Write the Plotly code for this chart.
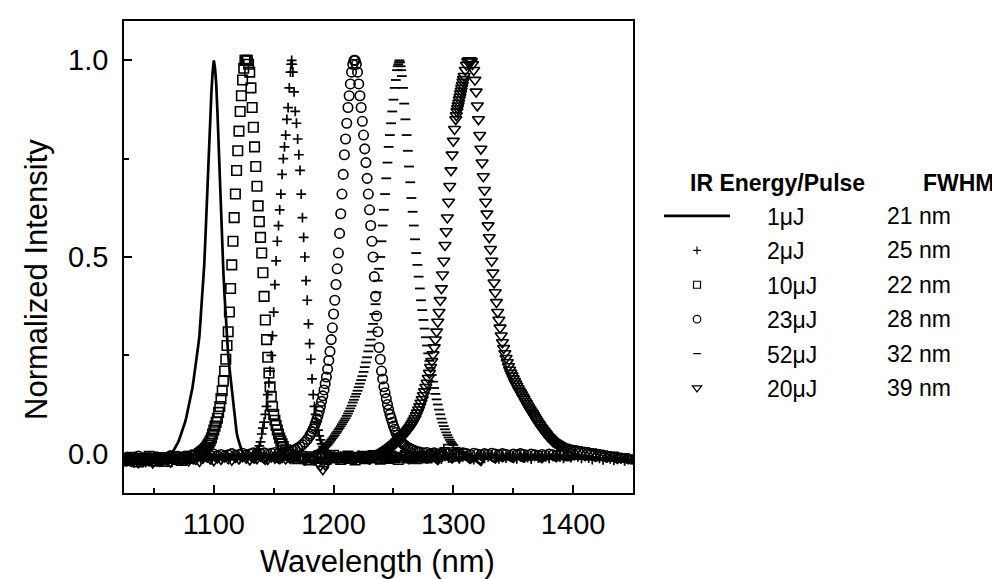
import plotly.graph_objects as go

FONT = "Liberation Sans, Arial, Helvetica, sans-serif"

# ---------------- data (wavelength nm, normalized intensity) ----------------
energy_labels = ["1\u03bcJ", "2\u03bcJ", "10\u03bcJ", "23\u03bcJ", "52\u03bcJ", "20\u03bcJ"]
fwhm_labels = ["21 nm", "25 nm", "22 nm", "28 nm", "32 nm", "39 nm"]
x_tick_vals = [1100, 1200, 1300, 1400]
y_tick_vals = [0.0, 0.5, 1.0]
y_tick_text = ["0.0", "0.5", "1.0"]

spec_1uj = [
    (1025, -0.022), (1027, -0.029), (1029, -0.017), (1031, -0.024), (1033, -0.031), (1035, -0.019),
    (1037, -0.026), (1039, -0.015), (1041, -0.023), (1043, -0.03), (1045, -0.018), (1047, -0.025),
    (1049, -0.014), (1051, -0.021), (1053, -0.028), (1055, -0.017), (1057, -0.024), (1059, -0.014),
    (1061, -0.011), (1063, -0.006), (1065, 0.0), (1066, 0.005), (1067, 0.01), (1068, 0.015),
    (1069, 0.02), (1070, 0.028), (1071, 0.035), (1072, 0.043), (1073, 0.052), (1074, 0.06),
    (1075, 0.07), (1076, 0.08), (1077, 0.092), (1078, 0.105), (1079, 0.12), (1080, 0.135),
    (1081, 0.15), (1082, 0.165), (1083, 0.185), (1084, 0.205), (1085, 0.225), (1086, 0.25),
    (1087, 0.275), (1088, 0.30), (1089, 0.34), (1090, 0.38), (1091, 0.43), (1092, 0.48),
    (1093, 0.55), (1094, 0.63), (1095, 0.71), (1096, 0.79), (1097, 0.86), (1098, 0.92),
    (1099, 0.97), (1100, 1.0), (1101, 0.98), (1102, 0.94), (1103, 0.87), (1104, 0.78),
    (1105, 0.69), (1106, 0.60), (1107, 0.53), (1108, 0.46), (1109, 0.40), (1110, 0.34),
    (1111, 0.29), (1112, 0.25), (1113, 0.22), (1114, 0.19), (1115, 0.16), (1116, 0.13),
    (1117, 0.10), (1118, 0.075), (1119, 0.055), (1120, 0.04), (1121, 0.028), (1122, 0.018),
    (1123, 0.01), (1124, 0.004), (1125, 0.0), (1128, -0.008), (1131, -0.016), (1134, -0.022),
    (1137, -0.011), (1140, -0.018), (1143, -0.025), (1146, -0.013), (1149, -0.008), (1152, -0.019),
    (1155, -0.024), (1158, -0.012), (1161, -0.016), (1164, -0.023), (1167, -0.01), (1170, -0.015),
    (1173, -0.021), (1176, -0.027), (1179, -0.013), (1182, -0.019), (1185, -0.01), (1188, -0.017),
    (1191, -0.024), (1194, -0.012), (1197, -0.02), (1200, -0.014), (1203, -0.008), (1206, -0.017),
    (1209, -0.023), (1212, -0.012), (1215, -0.016), (1218, -0.022), (1221, -0.01), (1224, -0.015),
    (1227, -0.02), (1230, -0.025), (1233, -0.013), (1236, -0.017), (1239, -0.009), (1242, -0.016),
    (1245, -0.022), (1248, -0.012), (1251, -0.019), (1254, -0.013), (1257, -0.008), (1260, -0.017),
    (1263, -0.024), (1266, -0.014), (1269, -0.02), (1272, -0.011), (1275, -0.016), (1278, -0.022),
    (1281, -0.013), (1284, -0.018), (1287, -0.026), (1290, -0.014), (1293, -0.01), (1296, -0.017),
    (1299, -0.022), (1302, -0.013), (1305, -0.02), (1308, -0.012), (1311, -0.016), (1314, -0.023),
    (1317, -0.016), (1320, -0.021), (1323, -0.028), (1326, -0.014), (1329, -0.01), (1332, -0.017),
    (1335, -0.022), (1338, -0.013), (1341, -0.019), (1344, -0.012), (1347, -0.016), (1350, -0.021),
    (1353, -0.011), (1356, -0.015), (1359, -0.02), (1362, -0.012), (1365, -0.017), (1368, -0.01),
    (1371, -0.015), (1374, -0.021), (1377, -0.012), (1380, -0.007), (1383, -0.014), (1386, -0.019),
    (1389, -0.01), (1392, -0.005), (1395, -0.012), (1398, -0.017), (1401, -0.009), (1404, -0.004),
    (1407, -0.011), (1410, -0.016), (1413, -0.008), (1416, -0.013), (1419, -0.018), (1422, -0.01),
    (1425, -0.015), (1428, -0.02), (1431, -0.012), (1434, -0.017), (1437, -0.023), (1440, -0.014),
    (1443, -0.019), (1446, -0.024), (1449, -0.017),
]

spec_2uj = [
    (1026, -0.011), (1029, -0.017), (1032, -0.013), (1035, -0.008), (1038, -0.015), (1041, -0.02),
    (1044, -0.012), (1047, -0.016), (1050, -0.009), (1053, -0.014), (1056, -0.019), (1059, -0.011),
    (1062, -0.007), (1065, -0.013), (1068, -0.017), (1071, -0.01), (1074, -0.014), (1077, -0.008),
    (1080, -0.012), (1083, -0.016), (1086, -0.009), (1089, -0.013), (1092, -0.007), (1095, -0.011),
    (1098, -0.015), (1101, -0.009), (1104, -0.006), (1107, -0.012), (1110, -0.008), (1113, -0.011),
    (1116, -0.005), (1119, -0.009), (1122, -0.012), (1125, -0.007), (1128, -0.004), (1131, -0.008),
    (1134, -0.002),
    (1135, 0.0), (1136, 0.005), (1137, 0.01), (1138, 0.02), (1139, 0.03), (1140, 0.05),
    (1141, 0.065), (1142, 0.08), (1143, 0.10), (1144, 0.12), (1145, 0.15), (1146, 0.18),
    (1147, 0.21), (1148, 0.25), (1149, 0.30), (1150, 0.36), (1151, 0.43), (1152, 0.49),
    (1153, 0.54), (1154, 0.58), (1155, 0.62), (1156, 0.66), (1157, 0.71), (1158, 0.75),
    (1159, 0.78), (1160, 0.81), (1161, 0.85), (1162, 0.88), (1163, 0.93), (1164, 0.97),
    (1164.5, 0.99), (1165, 1.0), (1165.5, 0.99), (1166, 0.97), (1167, 0.92), (1168, 0.87),
    (1169, 0.84), (1170, 0.80), (1171, 0.76), (1172, 0.72), (1173, 0.66), (1174, 0.60),
    (1175, 0.55), (1176, 0.50), (1177, 0.44), (1178, 0.39), (1179, 0.33), (1180, 0.28),
    (1181, 0.24), (1182, 0.19), (1183, 0.15), (1184, 0.12), (1185, 0.10), (1186, 0.08),
    (1187, 0.06), (1188, 0.045), (1189, 0.035), (1190, 0.025), (1191, 0.018), (1192, 0.012),
    (1193, 0.008), (1194, 0.004), (1195, 0.0),
    (1197, -0.003), (1200, -0.008), (1203, -0.012), (1206, -0.006), (1209, -0.01), (1212, -0.014),
    (1215, -0.007), (1218, -0.011), (1221, -0.004), (1224, -0.009), (1227, -0.013), (1230, -0.006),
    (1233, -0.01), (1236, -0.015), (1239, -0.008), (1242, -0.005), (1245, -0.011), (1248, -0.007),
    (1251, -0.012), (1254, -0.009), (1257, -0.004), (1260, -0.01), (1263, -0.014), (1266, -0.007),
    (1269, -0.011), (1272, -0.005), (1275, -0.009), (1278, -0.013), (1281, -0.008), (1284, -0.004),
    (1287, -0.01), (1290, -0.014), (1293, -0.007), (1296, -0.011), (1299, -0.006), (1302, -0.009),
    (1305, -0.013), (1308, -0.008), (1311, -0.005), (1314, -0.011), (1317, -0.015), (1320, -0.009),
    (1323, -0.006), (1326, -0.012), (1329, -0.008), (1332, -0.004), (1335, -0.01), (1338, -0.013),
    (1341, -0.007), (1344, -0.011), (1347, -0.005), (1350, -0.009), (1353, -0.013), (1356, -0.008),
    (1359, -0.004), (1362, -0.01), (1365, -0.014), (1368, -0.007), (1371, -0.011), (1374, -0.006),
    (1377, -0.009), (1380, -0.012), (1383, -0.007), (1386, -0.004), (1389, -0.009), (1392, -0.012),
    (1395, -0.006), (1398, -0.01), (1401, -0.005), (1404, -0.008), (1407, -0.012), (1410, -0.007),
    (1413, -0.011), (1416, -0.015), (1419, -0.009), (1422, -0.012), (1425, -0.016), (1428, -0.01),
    (1431, -0.013), (1434, -0.017), (1437, -0.011), (1440, -0.014), (1443, -0.018), (1446, -0.012),
    (1449, -0.015),
]

spec_10uj = [
    (1025, -0.012), (1028, -0.018), (1031, -0.009), (1034, -0.015), (1037, -0.021), (1040, -0.011),
    (1043, -0.016), (1046, -0.007), (1049, -0.013), (1052, -0.019), (1055, -0.01), (1058, -0.015),
    (1061, -0.02), (1064, -0.012), (1067, -0.008), (1070, -0.014), (1073, -0.017), (1076, -0.009),
    (1079, -0.012), (1082, -0.006), (1085, -0.003),
    (1088, 0.0), (1089, 0.002), (1090, 0.005), (1091, 0.007), (1092, 0.01), (1093, 0.013),
    (1094, 0.017), (1095, 0.022), (1096, 0.027), (1097, 0.033), (1098, 0.04),
    (1099, 0.05), (1100, 0.06), (1101, 0.07), (1102, 0.08), (1103, 0.09), (1104, 0.105),
    (1105, 0.12), (1106, 0.14), (1107, 0.16), (1108, 0.185), (1109, 0.21), (1110, 0.24),
    (1111, 0.275), (1112, 0.31), (1113, 0.36), (1114, 0.42), (1115, 0.48), (1116, 0.54),
    (1117, 0.60), (1118, 0.66), (1119, 0.72), (1120, 0.77), (1121, 0.82), (1122, 0.87),
    (1123, 0.91), (1124, 0.95), (1125, 0.98), (1126, 1.0), (1127, 1.0), (1128, 1.0),
    (1129, 0.99), (1130, 0.97), (1131, 0.93), (1132, 0.88), (1133, 0.83), (1134, 0.78),
    (1135, 0.73), (1136, 0.68), (1137, 0.63), (1138, 0.59), (1139, 0.55), (1140, 0.51),
    (1141, 0.46), (1142, 0.40), (1143, 0.34), (1144, 0.29), (1145, 0.245), (1146, 0.205),
    (1147, 0.17), (1148, 0.145), (1149, 0.12), (1150, 0.10), (1151, 0.085), (1152, 0.072),
    (1153, 0.06), (1154, 0.05), (1155, 0.04), (1156, 0.032), (1157, 0.025), (1158, 0.018),
    (1160, 0.01), (1162, 0.003),
    (1164, -0.003), (1167, -0.009), (1170, -0.013), (1173, -0.007), (1176, -0.011), (1179, -0.016),
    (1182, -0.008), (1185, -0.012), (1188, -0.005), (1191, -0.01), (1194, -0.014), (1197, -0.008),
    (1200, -0.004), (1203, -0.011), (1206, -0.015), (1209, -0.009), (1212, -0.006), (1215, -0.012),
    (1218, -0.016), (1221, -0.01), (1224, -0.007), (1227, -0.013), (1230, -0.009), (1233, -0.005),
    (1236, -0.011), (1239, -0.014), (1242, -0.008), (1245, -0.012), (1248, -0.006), (1251, -0.01),
    (1254, -0.015), (1257, -0.009), (1260, -0.005), (1263, -0.011), (1266, -0.008), (1269, -0.013),
    (1272, -0.009), (1275, -0.006), (1278, -0.011), (1281, -0.008), (1284, -0.004), (1287, -0.007),
    (1290, -0.003), (1293, 0.003), (1296, 0.011),
]

spec_23uj = [
    (1025, -0.014), (1028, -0.009), (1031, -0.016), (1034, -0.011), (1037, -0.006), (1040, -0.013),
    (1043, -0.018), (1046, -0.01), (1049, -0.014), (1052, -0.008), (1055, -0.012), (1058, -0.016),
    (1061, -0.009), (1064, -0.005), (1067, -0.011), (1070, -0.007), (1073, -0.012), (1076, -0.006),
    (1079, -0.009), (1082, -0.004), (1085, -0.008), (1088, -0.005), (1091, -0.002), (1094, -0.007),
    (1097, -0.004), (1100, -0.001), (1103, -0.005), (1106, -0.002), (1109, -0.006), (1112, -0.003),
    (1115, 0.0), (1118, -0.004), (1121, -0.002), (1124, 0.001), (1127, -0.003), (1130, -0.001),
    (1133, 0.002), (1136, -0.002), (1139, 0.0), (1142, 0.002), (1145, -0.001), (1148, 0.001),
    (1151, 0.003), (1154, 0.0), (1157, 0.002), (1160, 0.004), (1163, 0.006),
    (1166, 0.008), (1168, 0.011), (1170, 0.014), (1172, 0.018), (1174, 0.023), (1176, 0.029),
    (1178, 0.036), (1180, 0.045), (1181, 0.05), (1182, 0.056), (1183, 0.063), (1184, 0.07),
    (1185, 0.078), (1186, 0.087), (1187, 0.097), (1188, 0.108), (1189, 0.12), (1190, 0.133),
    (1191, 0.147), (1192, 0.162), (1193, 0.178), (1194, 0.195), (1195, 0.215), (1196, 0.237),
    (1197, 0.26), (1198, 0.29), (1199, 0.32), (1200, 0.355), (1201, 0.39), (1202, 0.43),
    (1203, 0.47), (1204, 0.51), (1205, 0.56), (1206, 0.61), (1207, 0.66), (1208, 0.71),
    (1209, 0.76), (1210, 0.80), (1211, 0.84), (1212, 0.88), (1213, 0.91), (1214, 0.94),
    (1215, 0.97), (1216, 0.99), (1217, 1.0), (1218, 1.0), (1219, 0.99), (1220, 0.97),
    (1221, 0.94), (1222, 0.91), (1223, 0.88), (1224, 0.845), (1225, 0.81), (1226, 0.775),
    (1227, 0.74), (1228, 0.70), (1229, 0.66), (1230, 0.62), (1231, 0.58), (1232, 0.54),
    (1233, 0.50), (1234, 0.45), (1235, 0.40), (1236, 0.35), (1237, 0.31), (1238, 0.27),
    (1239, 0.24), (1240, 0.21), (1241, 0.19), (1242, 0.17), (1243, 0.155), (1244, 0.14),
    (1245, 0.125), (1246, 0.112), (1247, 0.10), (1248, 0.09), (1249, 0.08), (1250, 0.07),
    (1251, 0.062), (1252, 0.054), (1253, 0.047), (1254, 0.041), (1255, 0.036), (1256, 0.031),
    (1257, 0.028), (1258, 0.025), (1259, 0.022), (1260, 0.02), (1262, 0.016), (1264, 0.013),
    (1266, 0.01), (1268, 0.007), (1270, 0.005),
    (1272, 0.004), (1275, 0.002), (1278, 0.003), (1281, 0.0), (1284, 0.002), (1287, -0.001),
    (1290, 0.001), (1293, 0.003), (1296, 0.0), (1299, -0.002), (1302, 0.001), (1305, -0.001),
    (1308, 0.002), (1311, 0.0), (1314, -0.002), (1317, 0.001), (1320, -0.001), (1323, -0.003),
    (1326, 0.0), (1329, -0.002), (1332, 0.001), (1335, -0.001), (1338, -0.003), (1341, 0.0),
    (1344, -0.002), (1347, -0.004), (1350, -0.001), (1353, -0.003), (1356, 0.0), (1359, -0.002),
    (1362, -0.004), (1365, -0.001), (1368, -0.003), (1371, -0.005), (1374, -0.002), (1377, -0.004),
    (1380, -0.001), (1383, -0.003), (1386, -0.005), (1389, -0.002), (1392, -0.004), (1395, -0.006),
    (1398, 0.001),
]

spec_52uj = [
    (1027, -0.013), (1030, -0.018), (1033, -0.011), (1036, -0.015), (1039, -0.02), (1042, -0.012),
    (1045, -0.009), (1048, -0.016), (1051, -0.021), (1054, -0.013), (1057, -0.017), (1060, -0.01),
    (1063, -0.014), (1066, -0.019), (1069, -0.012), (1072, -0.008), (1075, -0.015), (1078, -0.011),
    (1081, -0.016), (1084, -0.009), (1087, -0.013), (1090, -0.017), (1093, -0.01), (1096, -0.006),
    (1099, -0.012), (1102, -0.016), (1105, -0.009), (1108, -0.013), (1111, -0.007), (1114, -0.011),
    (1117, -0.015), (1120, -0.008), (1123, -0.012), (1126, -0.006), (1129, -0.01), (1132, -0.014),
    (1135, -0.008), (1138, -0.011), (1141, -0.005), (1144, -0.009), (1147, -0.013), (1150, -0.007),
    (1153, -0.01), (1156, -0.005), (1159, -0.009), (1162, -0.012), (1165, -0.006), (1168, -0.009),
    (1171, -0.005), (1174, -0.007), (1177, -0.004), (1180, -0.002),
    (1184, 0.0), (1185, 0.002), (1186, 0.003), (1187, 0.005), (1188, 0.006), (1189, 0.008),
    (1190, 0.01), (1191, 0.012), (1192, 0.015), (1193, 0.017), (1194, 0.02), (1195, 0.023),
    (1196, 0.027), (1197, 0.031), (1198, 0.035), (1199, 0.039), (1200, 0.043), (1201, 0.047),
    (1202, 0.052), (1203, 0.056), (1204, 0.061), (1205, 0.065), (1206, 0.07), (1207, 0.075),
    (1208, 0.08), (1209, 0.085), (1210, 0.09), (1211, 0.096), (1212, 0.102), (1213, 0.108),
    (1214, 0.115), (1215, 0.122), (1216, 0.13), (1217, 0.137), (1218, 0.145), (1219, 0.152),
    (1220, 0.16), (1221, 0.169), (1222, 0.178), (1223, 0.187), (1224, 0.197), (1225, 0.208),
    (1226, 0.22), (1227, 0.232), (1228, 0.245),
    (1229, 0.26), (1230, 0.275), (1231, 0.29), (1232, 0.31), (1233, 0.33), (1234, 0.355),
    (1235, 0.38), (1236, 0.41), (1237, 0.44), (1238, 0.47), (1239, 0.50), (1240, 0.54),
    (1241, 0.58), (1242, 0.62), (1243, 0.66), (1244, 0.70), (1245, 0.74), (1246, 0.78),
    (1247, 0.81), (1248, 0.84), (1249, 0.87), (1250, 0.90), (1251, 0.93), (1252, 0.95),
    (1253, 0.975), (1253.5, 0.985), (1254, 0.99), (1254.5, 0.995), (1255, 1.0), (1255.5, 0.995),
    (1256, 0.985), (1256.5, 0.975), (1257, 0.96), (1258, 0.93), (1259, 0.89), (1260, 0.85),
    (1261, 0.81), (1262, 0.77), (1263, 0.73), (1264, 0.69), (1265, 0.65), (1266, 0.615),
    (1267, 0.58), (1268, 0.545), (1269, 0.51), (1270, 0.48), (1271, 0.45), (1272, 0.42),
    (1273, 0.39), (1274, 0.365), (1275, 0.34), (1276, 0.318), (1277, 0.296), (1278, 0.275),
    (1279, 0.255), (1280, 0.236), (1281, 0.218), (1282, 0.2), (1283, 0.183), (1284, 0.167),
    (1285, 0.152), (1286, 0.138), (1287, 0.125), (1288, 0.112), (1289, 0.1), (1290, 0.089),
    (1291, 0.079), (1292, 0.07), (1293, 0.062), (1294, 0.054), (1295, 0.047), (1296, 0.041),
    (1297, 0.035), (1298, 0.03), (1299, 0.026), (1300, 0.022), (1302, 0.015), (1304, 0.01),
    (1306, 0.005), (1308, 0.001),
    (1311, -0.002), (1314, -0.006), (1317, -0.01), (1320, -0.005), (1323, -0.009), (1326, -0.013),
    (1329, -0.007), (1332, -0.011), (1335, -0.004), (1338, -0.008), (1341, -0.012), (1344, -0.006),
    (1347, -0.01), (1350, -0.014), (1353, -0.008), (1356, -0.005), (1359, -0.011), (1362, -0.007),
    (1365, -0.012), (1368, -0.009), (1371, -0.004), (1374, -0.01), (1377, -0.014), (1380, -0.007),
    (1383, -0.011), (1386, -0.005), (1389, -0.009), (1392, -0.013), (1395, -0.008), (1398, -0.004),
    (1401, -0.01), (1404, -0.014), (1407, -0.007), (1410, -0.011), (1413, -0.015), (1416, -0.009),
    (1419, -0.012), (1422, -0.017), (1425, -0.011), (1428, -0.014), (1431, -0.019), (1434, -0.012),
    (1437, -0.016), (1440, -0.021), (1443, -0.013), (1446, -0.017), (1449, -0.02),
]

spec_20uj = [
    (1025, -0.017), (1028, -0.012), (1031, -0.019), (1034, -0.014), (1037, -0.022), (1040, -0.015),
    (1043, -0.011), (1046, -0.018), (1049, -0.023), (1052, -0.014), (1055, -0.019), (1058, -0.012),
    (1061, -0.016), (1064, -0.021), (1067, -0.013), (1070, -0.009), (1073, -0.016), (1076, -0.012),
    (1079, -0.018), (1082, -0.01), (1085, -0.014), (1088, -0.019), (1091, -0.011), (1094, -0.007),
    (1097, -0.013), (1100, -0.017), (1103, -0.01), (1106, -0.014), (1109, -0.008), (1112, -0.012),
    (1115, -0.016), (1118, -0.009), (1121, -0.013), (1124, -0.007), (1127, -0.011), (1130, -0.015),
    (1133, -0.009), (1136, -0.012), (1139, -0.006), (1142, -0.01), (1145, -0.014), (1148, -0.008),
    (1151, -0.011), (1154, -0.005), (1157, -0.009), (1160, -0.013), (1163, -0.008), (1166, -0.011),
    (1169, -0.006), (1172, -0.01), (1175, -0.013), (1178, -0.009), (1181, -0.012), (1184, -0.015),
    (1187, -0.022), (1189, -0.03), (1191, -0.04), (1193, -0.028), (1195, -0.016), (1198, -0.009),
    (1201, -0.005), (1204, -0.01), (1207, -0.007), (1210, -0.011), (1213, -0.005), (1216, -0.008),
    (1219, -0.004), (1222, -0.007), (1225, -0.003), (1228, -0.006), (1231, -0.002), (1234, -0.004),
    (1237, 0.0),
    (1240, 0.002), (1241, 0.003), (1242, 0.005), (1243, 0.007), (1244, 0.009), (1245, 0.011),
    (1246, 0.013), (1247, 0.015), (1248, 0.018), (1249, 0.02), (1250, 0.023), (1251, 0.025),
    (1252, 0.028), (1253, 0.031), (1254, 0.034), (1255, 0.037), (1256, 0.04), (1257, 0.043),
    (1258, 0.046), (1259, 0.049), (1260, 0.053), (1261, 0.056), (1262, 0.06), (1263, 0.064),
    (1264, 0.068), (1265, 0.073), (1266, 0.078), (1267, 0.084), (1268, 0.09), (1269, 0.097),
    (1270, 0.104), (1271, 0.112), (1272, 0.12), (1273, 0.129), (1274, 0.138), (1275, 0.148),
    (1276, 0.158), (1277, 0.169), (1278, 0.18), (1279, 0.192), (1280, 0.205), (1281, 0.22),
    (1282, 0.235), (1283, 0.252), (1284, 0.27), (1285, 0.29), (1286, 0.31), (1287, 0.335),
    (1288, 0.36), (1289, 0.39), (1290, 0.42), (1291, 0.455), (1292, 0.49), (1293, 0.53),
    (1294, 0.565), (1295, 0.60), (1296, 0.64), (1297, 0.68), (1298, 0.72), (1299, 0.76),
    (1300, 0.795), (1301, 0.825), (1302, 0.85), (1302.5, 0.86), (1303, 0.87), (1303.5, 0.878),
    (1304, 0.885), (1304.5, 0.892), (1305, 0.9), (1305.5, 0.907), (1306, 0.915), (1306.5, 0.922),
    (1307, 0.93), (1307.5, 0.937), (1308, 0.945), (1308.5, 0.952), (1309, 0.96), (1310, 0.975),
    (1311, 0.988), (1312, 0.997), (1313, 1.0), (1314, 1.0), (1315, 0.998), (1316, 0.99),
    (1317, 0.975), (1318, 0.95), (1319, 0.92), (1320, 0.885), (1321, 0.85), (1322, 0.81),
    (1323, 0.775), (1324, 0.74), (1325, 0.705), (1326, 0.67), (1327, 0.64), (1328, 0.61),
    (1329, 0.58), (1330, 0.55), (1331, 0.52), (1332, 0.49), (1333, 0.46), (1334, 0.435),
    (1335, 0.41), (1336, 0.385), (1337, 0.36), (1338, 0.34), (1339, 0.32), (1340, 0.30),
    (1341, 0.283), (1342, 0.268), (1343, 0.255), (1344, 0.243), (1345, 0.232), (1346, 0.222),
    (1347, 0.213), (1348, 0.205), (1349, 0.198), (1350, 0.191), (1351, 0.184), (1352, 0.178),
    (1353, 0.172), (1354, 0.166), (1355, 0.16), (1356, 0.155), (1357, 0.15), (1358, 0.144),
    (1359, 0.139), (1360, 0.133), (1361, 0.128), (1362, 0.122), (1363, 0.117), (1364, 0.112),
    (1365, 0.107), (1366, 0.102), (1367, 0.097), (1368, 0.092), (1369, 0.087), (1370, 0.082),
    (1371, 0.077), (1372, 0.073), (1373, 0.068), (1374, 0.064), (1375, 0.06), (1376, 0.056),
    (1377, 0.052), (1378, 0.048), (1379, 0.044), (1380, 0.041), (1381, 0.038), (1382, 0.035),
    (1383, 0.032), (1384, 0.03), (1385, 0.028), (1386, 0.026), (1387, 0.024), (1388, 0.022),
    (1389, 0.02), (1390, 0.019), (1392, 0.017), (1394, 0.015), (1396, 0.014), (1398, 0.013),
    (1400, 0.012), (1403, 0.011), (1406, 0.009), (1409, 0.008), (1412, 0.006), (1415, 0.005),
    (1418, 0.003), (1421, 0.002), (1424, 0.0), (1427, -0.002), (1430, -0.004), (1433, -0.003),
    (1436, -0.006), (1439, -0.008), (1442, -0.007), (1445, -0.01), (1448, -0.012), (1450, -0.013),
]

# ---------------- layout geometry (pixels of the 1000x579 canvas) ----------------
W, H = 1000, 579
PL, PR, PT, PB = 116, 625, 13, 485


def px(x):
    return (x - PL) / (PR - PL)


def py(y):
    return (PB - y) / (PB - PT)


def mk(symbol, size, width):
    return dict(symbol=symbol, size=size, color="black", line=dict(color="black", width=width))


series = [spec_1uj, spec_2uj, spec_10uj, spec_23uj, spec_52uj, spec_20uj]
plot_styles = [
    dict(mode="lines", line=dict(color="black", width=2.7)),
    dict(mode="markers", marker=mk("cross-thin", 7, 1.7)),
    dict(mode="markers", marker=mk("square-open", 9.5, 1.6)),
    dict(mode="markers", marker=mk("circle-open", 9.5, 1.6)),
    dict(mode="markers", marker=mk("line-ew", 7, 1.8)),
    dict(mode="markers", marker=mk("triangle-down-open", 10.5, 1.6)),
]
legend_styles = [
    dict(mode="lines", line=dict(color="black", width=2.7)),
    dict(mode="markers", marker=mk("cross-thin", 5.5, 1.2)),
    dict(mode="markers", marker=mk("square-open", 7, 1.2)),
    dict(mode="markers", marker=mk("circle-open", 7.5, 1.2)),
    dict(mode="markers", marker=mk("line-ew", 5.5, 1.3)),
    dict(mode="markers", marker=mk("triangle-down-open", 8, 1.2)),
]

fig = go.Figure()
for i, spec in enumerate(series):
    xs = [p[0] for p in spec]
    ys = [p[1] for p in spec]
    fig.add_trace(go.Scatter(x=xs, y=ys, name=energy_labels[i], showlegend=False,
                             hoverinfo="skip", **plot_styles[i]))

pad = "\u00a0" * 5
for i in range(len(series)):
    fig.add_trace(go.Scatter(x=[None], y=[None], name=pad + energy_labels[i],
                             legendgroup=f"g{i}", showlegend=True, hoverinfo="skip",
                             **legend_styles[i]))

ann = []
ann.append(dict(text="<b>IR Energy/Pulse</b>", x=px(680), y=py(175), xref="paper", yref="paper",
                xanchor="left", yanchor="middle", showarrow=False,
                font=dict(family=FONT, size=23, color="black")))
ann.append(dict(text="<b>FWHM</b>", x=px(913), y=py(175), xref="paper", yref="paper",
                xanchor="left", yanchor="middle", showarrow=False,
                font=dict(family=FONT, size=23, color="black")))
row0, row_step = 208, 34.4
for i, t in enumerate(fwhm_labels):
    ann.append(dict(text=t, x=px(877), y=py(row0 + i * row_step), xref="paper", yref="paper",
                    xanchor="left", yanchor="middle", showarrow=False,
                    font=dict(family=FONT, size=23, color="black")))
ann.append(dict(text="Wavelength (nm)", x=px(369), y=py(553), xref="paper", yref="paper",
                xanchor="center", yanchor="middle", showarrow=False,
                font=dict(family=FONT, size=31, color="black")))
ann.append(dict(text="Normalized Intensity", x=px(28), y=py(272), xref="paper", yref="paper",
                xanchor="center", yanchor="middle", showarrow=False, textangle=-90,
                font=dict(family=FONT, size=31, color="black")))

fig.update_layout(
    width=W, height=H,
    margin=dict(l=PL, r=W - PR, t=PT, b=H - PB, autoexpand=False),
    paper_bgcolor="white", plot_bgcolor="white",
    font=dict(family=FONT, color="black"),
    showlegend=True,
    legend=dict(x=px(651), y=py(186.5), xanchor="left", yanchor="top", xref="paper", yref="paper",
                font=dict(family=FONT, size=23, color="black"), itemwidth=66,
                tracegroupgap=1.5, traceorder="grouped", itemsizing="trace",
                bgcolor="rgba(0,0,0,0)", borderwidth=0),
    annotations=ann,
    xaxis=dict(range=[1025, 1450], tickvals=x_tick_vals, showline=True, linecolor="black",
               linewidth=1.5, mirror=True, ticks="inside", ticklen=8, tickwidth=1.5,
               tickcolor="black", showgrid=False, zeroline=False, ticklabelstandoff=4,
               tickfont=dict(family=FONT, size=29, color="black"),
               minor=dict(dtick=50, tick0=1000, ticks="inside", ticklen=5, tickwidth=1.5,
                          tickcolor="black", showgrid=False)),
    yaxis=dict(range=[-0.1, 1.1], tickvals=y_tick_vals, ticktext=y_tick_text, showline=True,
               linecolor="black", linewidth=1.5, mirror=True, ticks="inside", ticklen=8,
               tickwidth=1.5, tickcolor="black", showgrid=False, zeroline=False,
               ticklabelstandoff=8, tickfont=dict(family=FONT, size=29, color="black"),
               minor=dict(tickvals=[0.25, 0.75], ticks="inside", ticklen=5, tickwidth=1.5,
                          tickcolor="black", showgrid=False)),
)

fig.write_html("out.html")
